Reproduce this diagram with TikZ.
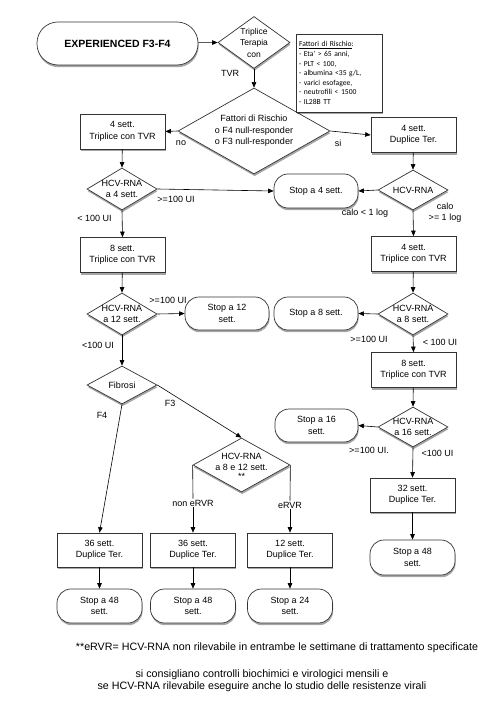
\documentclass[tikz,border=0pt]{standalone}
\usepackage{fontspec}
\setmainfont{Liberation Sans}
\newfontfamily\calib{Carlito}
\usetikzlibrary{shapes.geometric,arrows.meta,shadows}
\newcommand{\fs}{\fontsize{9}{11.5}\selectfont}
\begin{document}
\begin{tikzpicture}[x=1pt,y=-1pt,
  shd/.style={drop shadow={shadow xshift=0.6pt,shadow yshift=-2.2pt,fill=black,opacity=0.35}},
  box/.style={draw=black!80,line width=0.7pt,fill=white,minimum width=85pt,minimum height=35pt,align=center,font=\fs,inner sep=1pt,shd},
  stopn/.style={box,rounded corners=14pt,minimum height=34pt},
  dia/.style={draw=black!80,line width=0.7pt,fill=white,diamond,inner sep=0pt,shd},
  dlab/.style={font=\fs,align=center,inner sep=0pt},
  arr/.style={-{Triangle[length=5.5pt,width=4.5pt]},line width=0.6pt},
  ln/.style={line width=0.6pt},
  lbl/.style={font=\fs,inner sep=1pt,align=center}]
\useasboundingbox[fill=white] (0,0) rectangle (500,708);

% top
\node[box,rounded corners=21pt,minimum width=161pt,minimum height=43pt,font=\fontsize{10.5}{12}\selectfont\bfseries] (start) at (117.5,43.5) {EXPERIENCED F3-F4};
\node[dia,minimum width=72pt,minimum height=52pt,label={[dlab,font=\fontsize{8.5}{11.5}\selectfont]center:Triplice\\Terapia\\con}] (tri) at (254,42.5) {};
\node[lbl] (tvr) at (230,73) {TVR};
\node[dia,minimum width=152pt,minimum height=86pt,label={[dlab]center:Fattori di Rischio\\o F4 null-responder\\o F3 null-responder}] (fr) at (254,131) {};
\node[draw=black!80,line width=0.7pt,fill=white,shd,minimum width=86pt,minimum height=78pt,text width=80pt,inner sep=3pt,align=left,font=\calib\fontsize{7.6}{9.6}\selectfont] (fatt) at (339,73)
  {\underline{Fattori di Rischio}:\\- Eta' > 65 anni,\\- PLT < 100,\\- albumina <35 g/L,\\- varici esofagee,\\- neutrofili < 1500\\- IL28B TT};

% left column
\node[box] (L1) at (122.5,131.5) {4 sett.\\Triplice con TVR};
\node[dia,minimum width=70pt,minimum height=42pt,label={[dlab]center:HCV-RNA\\a 4 sett.}] (dL4) at (122,189) {};
\node[box] (L2) at (122.5,255) {8 sett.\\Triplice con TVR};
\node[dia,minimum width=70pt,minimum height=42pt,label={[dlab]center:HCV-RNA\\a 12 sett.}] (dL12) at (122,314) {};
\node[dia,minimum width=70pt,minimum height=38pt,label={[dlab]center:Fibrosi}] (fib) at (122,385) {};

% middle stops
\node[stopn,minimum width=84pt] (s4) at (316,191) {Stop a 4 sett.};
\node[stopn,minimum width=84pt,minimum height=33pt] (s12) at (227,313.5) {Stop a 12\\sett.};
\node[stopn,minimum width=84pt,minimum height=33pt] (s8) at (316,313.5) {Stop a 8 sett.};
\node[stopn,minimum width=83pt,minimum height=33pt] (s16) at (316.5,425.5) {Stop a 16\\sett.};

% right column
\node[box] (R1) at (413.5,135) {4 sett.\\Duplice Ter.};
\node[dia,minimum width=70pt,minimum height=40pt,label={[dlab]center:HCV-RNA}] (dR4) at (413,190) {};
\node[box] (R2) at (413.5,254) {4 sett.\\Triplice con TVR};
\node[dia,minimum width=70pt,minimum height=42pt,label={[dlab]center:HCV-RNA\\a 8 sett.}] (dR8) at (413,314) {};
\node[box] (R3) at (413.5,370) {8 sett.\\Triplice con TVR};
\node[dia,minimum width=70pt,minimum height=40pt,label={[dlab]center:HCV-RNA\\a 16 sett.}] (dR16) at (413,427) {};
\node[box,minimum height=34pt] (R4) at (412.5,495) {32 sett.\\Duplice Ter.};
\node[stopn,minimum height=35pt] (sR48) at (412.5,557.5) {Stop a 48\\sett.};

% F3 branch
\node[dia,minimum width=97pt,minimum height=54pt,label={[dlab,yshift=-1pt]center:HCV-RNA\\a 8 e 12 sett.\\[-3pt]**}] (d812) at (241.5,465) {};

% bottom row
\node[box,minimum height=34pt] (B1) at (99.5,550) {36 sett.\\Duplice Ter.};
\node[box,minimum height=34pt] (B2) at (193,550) {36 sett.\\Duplice Ter.};
\node[box,minimum height=34pt] (B3) at (290,550) {12 sett.\\Duplice Ter.};
\node[stopn] (S1) at (99.5,606) {Stop a 48\\sett.};
\node[stopn] (S2) at (193,606) {Stop a 48\\sett.};
\node[stopn] (S3) at (290,606) {Stop a 24\\sett.};

% edge labels
\node[lbl] (lno) at (181,143) {no};
\node[lbl] (lsi) at (338,143) {si};
\node[lbl] (l1) at (176,199) {>=100 UI};
\node[lbl] (l2) at (94.5,218) {< 100 UI};
\node[lbl] (l3) at (365,213) {calo < 1 log};
\node[lbl,font=\fontsize{9}{11}\selectfont] (l4) at (445,212.5) {calo\\>= 1 log};
\node[lbl] (l5) at (168,300) {>=100 UI};
\node[lbl] (l6) at (98,345) {<100 UI};
\node[lbl] (l7) at (369,339) {>=100 UI};
\node[lbl] (l8) at (440,342) {< 100 UI};
\node[lbl] (lF4) at (102,415) {F4};
\node[lbl] (lF3) at (170,403) {F3};
\node[lbl] (l9) at (369,450) {>=100 UI.};
\node[lbl] (l10) at (437.5,453) {<100 UI};
\node[lbl] (lnon) at (193,503) {non eRVR};
\node[lbl] (ler) at (290,505) {eRVR};

% connectors
\draw[arr] (start) -- (tri.west);
\draw[arr] (tri.south) -- (fr.north);
\draw[arr] (fr.west) -- (L1.east);
\draw[arr] (fr.east) -- (R1.west);
\draw[arr] (L1) -- (dL4.north);
\draw[arr] (dL4.east) -- (s4.west);
\draw[arr] (dL4.south) -- (L2.north);
\draw[arr] (L2) -- (dL12.north);
\draw[arr] (dL12.east) -- (s12.west);
\draw[arr] (dL12.south) -- (fib.north);
\draw[arr] (fib.south) -- (B1.north);
\draw[arr] (fib.east) -- (d812.north);
\draw[ln] (d812.west) -- (lnon.north);
\draw[arr] (lnon.south) -- (B2.north);
\draw[ln] (d812.east) -- (ler.north);
\draw[arr] (ler.south) -- (B3.north);
\draw[arr] (B1) -- (S1);
\draw[arr] (B2) -- (S2);
\draw[arr] (B3) -- (S3);
\draw[arr] (R1) -- (dR4.north);
\draw[arr] (dR4.west) -- (s4.east);
\draw[arr] (dR4.south) -- (R2.north);
\draw[arr] (R2) -- (dR8.north);
\draw[arr] (dR8.west) -- (s8.east);
\draw[arr] (dR8.south) -- (R3.north);
\draw[arr] (R3) -- (dR16.north);
\draw[arr] (dR16.west) -- (s16.east);
\draw[arr] (dR16.south) -- (R4.north);
\draw[arr] (R4) -- (sR48);

% notes
\node[lbl,font=\fontsize{10.7}{12}\selectfont] (n1) at (277,648) {**eRVR= HCV-RNA non rilevabile in entrambe le settimane di trattamento specificate};
\node[lbl,font=\fontsize{10.7}{12}\selectfont] (n2) at (262,680.5) {si consigliano controlli biochimici e virologici mensili e\\se HCV-RNA rilevabile eseguire anche lo studio delle resistenze virali};
\end{tikzpicture}
\end{document}
